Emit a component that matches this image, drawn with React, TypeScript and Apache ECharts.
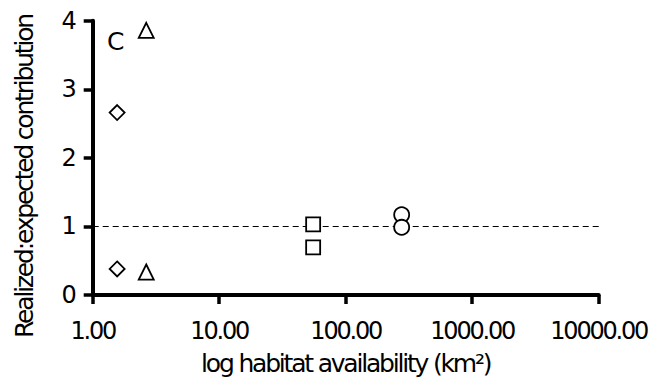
import React, { useEffect, useRef } from "react";
import * as echarts from "echarts";

// Data
const diamondPoints: [number, number][] = [
  [1.56, 2.66],
  [1.56, 0.38],
];
const trianglePoints: [number, number][] = [
  [2.65, 3.86],
  [2.65, 0.335],
];
const squarePoints: [number, number][] = [
  [55.3, 1.03],
  [55.3, 0.695],
];
const circlePoints: [number, number][] = [
  [277, 1.17],
  [277, 0.987],
];
const referenceLevel = 1;
const xRange = [1, 10000];
const yRange = [0, 4];
const panelLabel = "C";
const yTitle = "Realized:expected contribution";
const xTitle = "log habitat availability (km²)";

const FONT = "DejaVu Sans";

export default function App() {
  const ref = useRef<HTMLDivElement>(null);

  useEffect(() => {
    if (!ref.current) return;
    const chart = echarts.init(ref.current, null, { renderer: "svg" });

    const markerStyle = {
      color: "#ffffff",
      borderColor: "#000000",
      borderWidth: 1.8,
      opacity: 1,
    };

    const mkSeries = (name: string, data: [number, number][], symbol: string, size: number) => ({
      name,
      type: "scatter",
      data,
      symbol,
      symbolSize: size,
      itemStyle: markerStyle,
      z: 5,
    });

    chart.setOption({
      animation: false,
      backgroundColor: "#ffffff",
      textStyle: { fontFamily: FONT },
      grid: {
        left: 92.7,
        right: 54.3,
        top: 20.7,
        bottom: 88,
        containLabel: false,
        outerBoundsMode: "none",
      },
      xAxis: {
        type: "log",
        logBase: 10,
        min: xRange[0],
        max: xRange[1],
        name: xTitle,
        nameLocation: "middle",
        nameGap: 56,
        nameTextStyle: { fontFamily: FONT, fontSize: 25, color: "#000" },
        axisLine: { lineStyle: { color: "#000", width: 4 } },
        axisTick: { show: true, length: 9, lineStyle: { color: "#000", width: 3.5 } },
        axisLabel: {
          fontFamily: FONT,
          fontSize: 24,
          color: "#000",
          margin: 24,
          showMinLabel: true,
          showMaxLabel: true,
          formatter: (v: number) => Number(v).toFixed(2),
        },
        splitLine: { show: false },
        minorTick: { show: false },
      },
      yAxis: {
        type: "value",
        min: yRange[0],
        max: yRange[1],
        interval: 1,
        axisLine: { show: true, lineStyle: { color: "#000", width: 4 } },
        axisTick: { show: true, length: 9, lineStyle: { color: "#000", width: 3.5 } },
        axisLabel: { fontFamily: FONT, fontSize: 24, color: "#000", margin: 18 },
        splitLine: { show: false },
      },
      graphic: [
        {
          type: "text",
          x: 24,
          y: 176.5,
          rotation: Math.PI / 2,
          style: {
            text: yTitle,
            fontFamily: FONT,
            fontSize: 25,
            fill: "#000",
            textAlign: "center",
            textVerticalAlign: "middle",
          },
        },
        {
          type: "text",
          x: 107,
          y: 41.2,
          style: {
            text: panelLabel,
            fontFamily: FONT,
            fontSize: 25,
            fill: "#000",
            textAlign: "left",
            textVerticalAlign: "middle",
          },
        },
      ],
      series: [
        {
          ...mkSeries("diamond", diamondPoints, "diamond", 15),
          markLine: {
            silent: true,
            symbol: ["none", "none"],
            label: { show: false },
            lineStyle: { color: "#000", width: 1, type: [6, 4] },
            data: [{ yAxis: referenceLevel }],
            z: 1,
          },
        },
        mkSeries("triangle", trianglePoints, "triangle", 15),
        mkSeries("square", squarePoints, "rect", 14),
        mkSeries("circle", circlePoints, "circle", 15),
      ],
    });

    return () => chart.dispose();
  }, []);

  return (
    <>
      <style>{`#chart text { letter-spacing: -2.2px; }`}</style>
      <div
        id="chart"
        ref={ref}
        style={{ position: "fixed", left: 0, top: 0, width: 653, height: 383 }}
      />
    </>
  );
}
